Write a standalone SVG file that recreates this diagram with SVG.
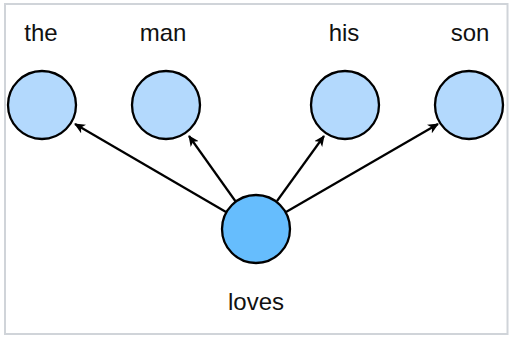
<svg xmlns="http://www.w3.org/2000/svg" width="513" height="338" viewBox="0 0 513 338">
<defs>
<style>
.leaf{fill:#b3d9fd;stroke:#000;stroke-width:2.3}
.root{fill:#66bdfd;stroke:#000;stroke-width:2.3}
.lbl{font-family:"Liberation Sans",Arial,sans-serif;font-size:24px;fill:#111;text-anchor:middle}
.edge{stroke:#000;stroke-width:2.2;fill:none;marker-end:url(#ah)}
</style>
<marker id="ah" markerWidth="12" markerHeight="10" refX="10" refY="5" orient="auto" markerUnits="userSpaceOnUse">
<path d="M0,0 L11,5 L0,10 L3,5 Z" fill="#000"/>
</marker>
</defs>
<rect x="0" y="0" width="513" height="338" fill="#fff"/>
<rect x="5" y="4" width="502.5" height="330" fill="#fff" stroke="#d0d4d9" stroke-width="2"/>
<g id="connectors">
<line class="edge" x1="226" y1="212" x2="75" y2="124"/>
<line class="edge" x1="236" y1="202" x2="189" y2="136"/>
<line class="edge" x1="277" y1="201" x2="324" y2="136"/>
<line class="edge" x1="286" y1="212" x2="438" y2="124"/>
</g>
<g id="node-the"><circle class="leaf" cx="42" cy="105" r="34"/><text class="lbl" x="41" y="41">the</text></g>
<g id="node-man"><circle class="leaf" cx="166" cy="105" r="34"/><text class="lbl" x="163" y="41">man</text></g>
<g id="node-his"><circle class="leaf" cx="345" cy="105" r="34"/><text class="lbl" x="344" y="41">his</text></g>
<g id="node-son"><circle class="leaf" cx="469" cy="105" r="34"/><text class="lbl" x="470" y="41">son</text></g>
<g id="node-loves"><circle class="root" cx="256" cy="229" r="34"/><text class="lbl" x="256" y="310">loves</text></g>
</svg>
